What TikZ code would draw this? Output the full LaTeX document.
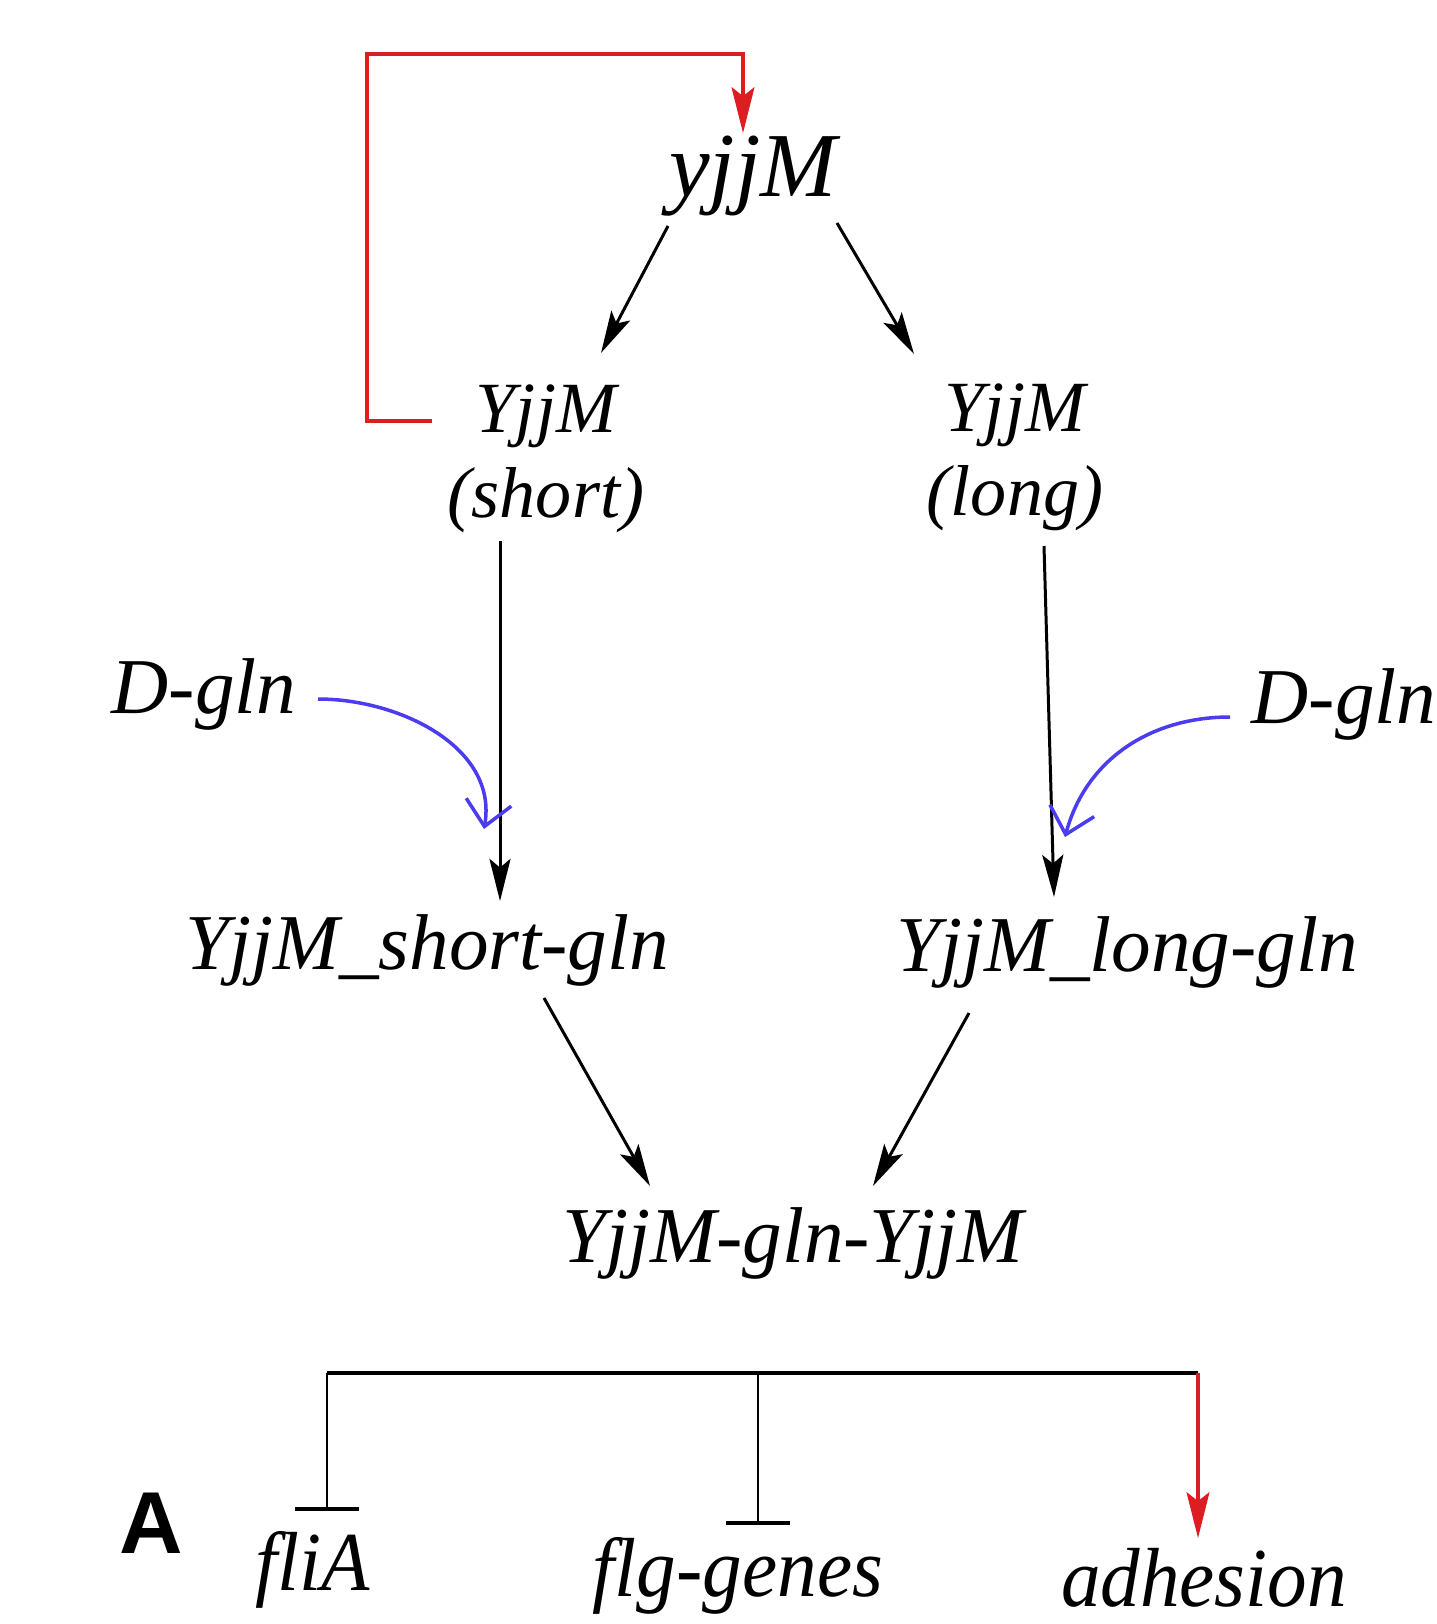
\documentclass[tikz,border=0pt]{standalone}
\usepackage{fontspec}
\setmainfont{Liberation Serif}
\setsansfont{Liberation Sans}
\usepackage{tikz}
\usetikzlibrary{arrows.meta,calc}
\definecolor{actred}{RGB}{220,30,35}
\definecolor{glnblue}{RGB}{75,60,240}
\tikzset{
        lbl/.style={inner sep=0pt,font=\fontsize{22.5}{25}\selectfont\itshape},
        sub/.style={inner sep=0pt,align=center,font=\fontsize{20.5}{24}\selectfont\itshape},
        tall/.style={inner sep=0pt,anchor=base,font=\fontsize{22.5}{25}\selectfont\itshape,yscale=1.06},
        act/.style={-{Stealth[length=12pt,width=6pt,inset=2.5pt]},line width=0.85pt},
        redact/.style={-{Stealth[length=13pt,width=6.5pt,inset=2.5pt]},line width=0.95pt,draw=actred},
        bind/.style={-{Straight Barb[length=7pt,width=13pt]},line width=1pt,draw=glnblue},
        inhib/.style={-{Bar[width=18pt,line width=1.2pt]},line width=0.75pt}
}
\begin{document}
\begin{tikzpicture}[x=0.01cm,y=0.01cm]
        \useasboundingbox (0,0) rectangle (1437,-1624);
        \node[lbl,font=\fontsize{26}{28}\selectfont\itshape] (yjjM) at (753,-176) {yjjM};
        \node[sub] (shortP) at (546,-459) {YjjM\\(short)};
        \node[sub] (longP) at (1015,-457) {YjjM\\(long)};
        \node[lbl] (dgl) at (204,-694) {D-gln};
        \node[lbl] (dgr) at (1344,-704) {D-gln};
        \node[lbl] (shortG) at (427,-950) {YjjM\_short-gln};
        \node[lbl] (longG) at (1127,-952) {YjjM\_long-gln};
        \node[lbl] (dimer) at (793,-1243) {YjjM-gln-YjjM};
        \node[tall] (fliA) at (313,-1590) {fliA};
        \node[tall] (flg) at (738,-1596) {flg-genes};
        \node[tall] (adh) at (1204,-1606) {adhesion};
        \node[inner sep=0pt,font=\fontsize{25}{28}\selectfont\sffamily\bfseries] (panA) at (151,-1523) {A};

        \coordinate (loop) at (367,-54);
        \coordinate (barL) at (327,-1373);
        \coordinate (barM) at (758,-1373);
        \coordinate (barR) at (1198,-1373);

	\path ($(yjjM)+(-85,-50)$) edge[act] ($(shortP)+(55,106)$);
	\path ($(yjjM)+(84,-47)$) edge[act] ($(longP)+(-101,103)$);
	\path ($(shortP)+(-46,-82)$) edge[act] ($(shortG)+(73,49)$);
	\path ($(longP)+(29,-89)$) edge[act] ($(longG)+(-73,55)$);
	\path ($(shortG)+(117,-48)$) edge[act] ($(dimer)+(-143,57)$);
	\path ($(longG)+(-158,-61)$) edge[act] ($(dimer)+(80,57)$);
	\draw[redact] ($(shortP)+(-114,38)$) -| (loop) -| ($(yjjM)+(-10,43)$);
	\draw[bind] ($(dgl)+(114,-5)$) to[out=0,in=80] ($(shortG)+(57,121)$);
	\draw[bind] ($(dgr)+(-114,-13)$) to[out=180,in=75] ($(longG)+(-62,115)$);
	\draw[line width=1.2pt] (barL) -- (barR);
	\path (barL) edge[inhib] ($(fliA.base)+(14,79)$);
	\path (barM) edge[inhib] ($(flg.base)+(20,71)$);
	\path (barR) edge[redact] ($(adh.base)+(-6,68)$);
\end{tikzpicture}
\end{document}
